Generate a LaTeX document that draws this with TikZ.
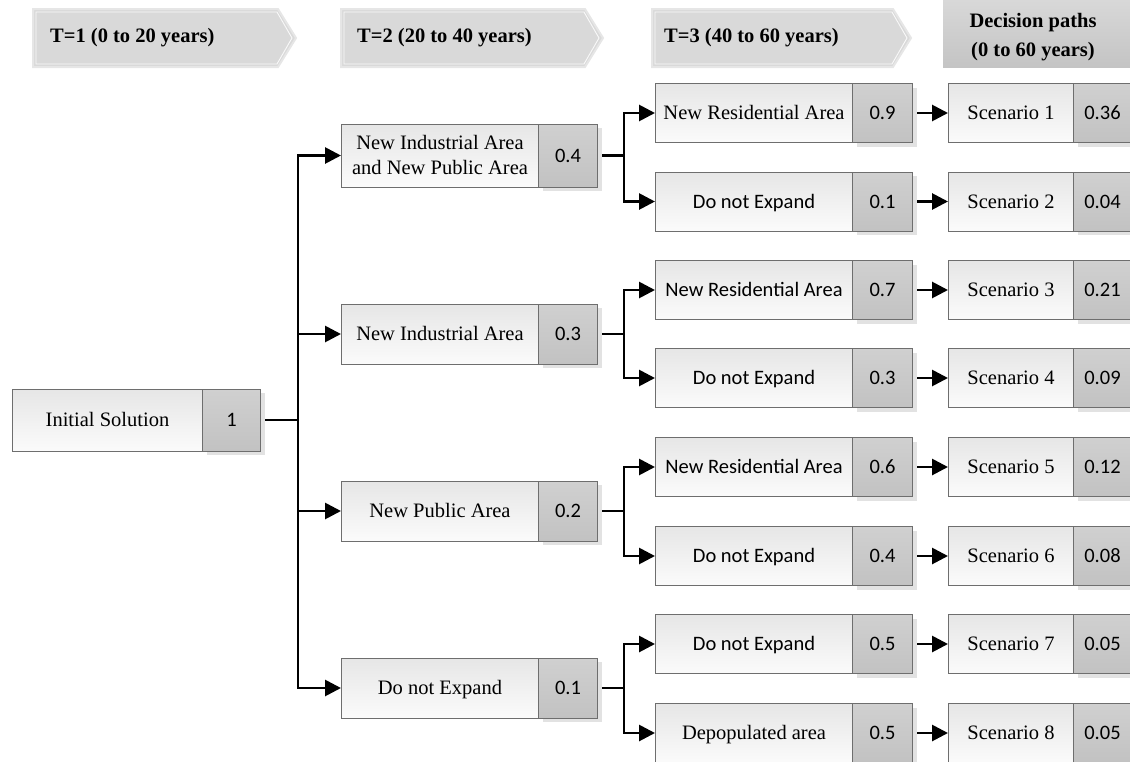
\documentclass[tikz,border=0pt]{standalone}
\usepackage{fontspec}
\setmainfont{Liberation Serif}
\newfontfamily\calfont{Carlito}
\usetikzlibrary{arrows.meta,shadows}
\pgfdeclarelayer{bg}
\pgfsetlayers{bg,main}
\definecolor{bord}{HTML}{6E6E6E}
\definecolor{labtop}{HTML}{E6E6E6}
\definecolor{labbot}{HTML}{FBFBFB}
\definecolor{numtop}{HTML}{D0D0D0}
\definecolor{numbot}{HTML}{C2C2C2}
\definecolor{shad}{HTML}{E2E2E2}
\definecolor{chevfill}{HTML}{D9D9D9}
\definecolor{chevedge}{HTML}{E6E6E6}
\definecolor{dectop}{HTML}{D8D8D8}
\definecolor{decbot}{HTML}{C4C4C4}
\newcommand\mystrut{\rule[-5pt]{0pt}{23pt}}
\tikzset{
  lab/.style={draw=bord, line width=1pt, top color=labtop, bottom color=labbot,
    anchor=west, inner sep=0pt, align=center, font=\fontsize{20.5}{25}\selectfont},
  num/.style={draw=bord, line width=1pt, top color=numtop, bottom color=numbot,
    anchor=west, inner sep=0pt, font=\calfont\fontsize{20.5}{25}\selectfont,
    drop shadow={shadow xshift=4pt, shadow yshift=-4pt, fill=shad, opacity=1}},
  hdr/.style={anchor=west, inner sep=0pt, font=\bfseries\fontsize{20.5}{29}\selectfont},
  conn/.style={line width=2.8pt, line join=miter},
  arr/.style={conn, -{Triangle[length=16pt,width=16pt]}},
  chev/.style={fill=chevfill, draw=chevedge, line width=2pt},
  chevin/.style={draw=white!85!chevfill, line width=0.9pt}
}
% name, xleft, xsplit, xright, ycenter, height, label, number
\newcommand\mybox[8]{%
  \node[lab, minimum width={#3-#2}, minimum height=#6] (#1) at (#2,#5) {\mystrut#7\mystrut};
  \node[num, minimum width={#4-#3}, minimum height=#6] (#1n) at (#3,#5) {\mystrut#8};
}
% x0, x1, xtip
\newcommand\mychev[3]{%
  \path[chev] (#1,9) -- (#2,9) -- (#3,38) -- (#2,67) -- (#1,67) -- cycle;
  \draw[chevin] (#1+3,12) -- (#2-1,12) -- (#3-4,38) -- (#2-1,64) -- (#1+3,64) -- cycle;
}
\begin{document}
\begin{tikzpicture}[x=1pt,y=-1pt]
\useasboundingbox (0,0) rectangle (1130,761);
% headers
\mychev{33}{278}{296}
\node[hdr] (h1) at (50,38) {T=1 (0 to 20 years)};
\mychev{341}{585}{603}
\node[hdr] (h2) at (357,38) {T=2 (20 to 40 years)};
\mychev{652}{893}{911}
\node[hdr] (h3) at (664,38) {T=3 (40 to 60 years)};
\path[top color=dectop, bottom color=decbot] (943,0) rectangle (1130,67);
\node[hdr, anchor=center, align=center] (h4) at (1033,37) {Decision paths\\(0 to 60 years)};
% initial
\mybox{n0}{12}{202}{260}{420}{62}{Initial Solution}{1}
% T2
\mybox{a1}{341}{538}{597}{155.5}{63}{New Industrial Area\\and New Public Area}{0.4}
\mybox{a2}{341}{538}{597}{334}{60}{New Industrial Area}{0.3}
\mybox{a3}{341}{538}{597}{511}{60}{New Public Area}{0.2}
\mybox{a4}{341}{538}{597}{688}{60}{Do not Expand}{0.1}
% T3
\mybox{b1}{655}{852}{912}{113}{59}{New Residential Area}{0.9}
\mybox{b2}{655}{852}{912}{201.5}{59}{\calfont Do not Expand}{0.1}
\mybox{b3}{655}{852}{912}{290}{59}{\calfont New Residential Area}{0.7}
\mybox{b4}{655}{852}{912}{378}{59}{\calfont Do not Expand}{0.3}
\mybox{b5}{655}{852}{912}{467}{59}{\calfont New Residential Area}{0.6}
\mybox{b6}{655}{852}{912}{556}{59}{\calfont Do not Expand}{0.4}
\mybox{b7}{655}{852}{912}{644}{59}{\calfont Do not Expand}{0.5}
\mybox{b8}{655}{852}{912}{733}{59}{Depopulated area}{0.5}
% scenarios
\mybox{s1}{948}{1073}{1131}{113}{59}{Scenario 1}{0.36}
\mybox{s2}{948}{1073}{1131}{201.5}{59}{Scenario 2}{0.04}
\mybox{s3}{948}{1073}{1131}{290}{59}{Scenario 3}{0.21}
\mybox{s4}{948}{1073}{1131}{378}{59}{Scenario 4}{0.09}
\mybox{s5}{948}{1073}{1131}{467}{59}{Scenario 5}{0.12}
\mybox{s6}{948}{1073}{1131}{556}{59}{Scenario 6}{0.08}
\mybox{s7}{948}{1073}{1131}{644}{59}{Scenario 7}{0.05}
\mybox{s8}{948}{1073}{1131}{733}{59}{Scenario 8}{0.05}
% connectors
\begin{pgfonlayer}{bg}
\draw[conn] (n0n.east) -- ++(37,0) coordinate (j0);
\foreach \t in {a1,a2,a3,a4}{\draw[arr] (j0) |- (\t.west);}
\draw[conn] (a1n.east) -- ++(26,0) coordinate (j1);
\draw[arr] (j1) |- (b1.west);
\draw[arr] (j1) |- (b2.west);
\draw[conn] (a2n.east) -- ++(26,0) coordinate (j2);
\draw[arr] (j2) |- (b3.west);
\draw[arr] (j2) |- (b4.west);
\draw[conn] (a3n.east) -- ++(26,0) coordinate (j3);
\draw[arr] (j3) |- (b5.west);
\draw[arr] (j3) |- (b6.west);
\draw[conn] (a4n.east) -- ++(26,0) coordinate (j4);
\draw[arr] (j4) |- (b7.west);
\draw[arr] (j4) |- (b8.west);
\foreach \i in {1,...,8}{\draw[arr] (b\i n.east) -- (s\i.west);}
\end{pgfonlayer}
\end{tikzpicture}
\end{document}
